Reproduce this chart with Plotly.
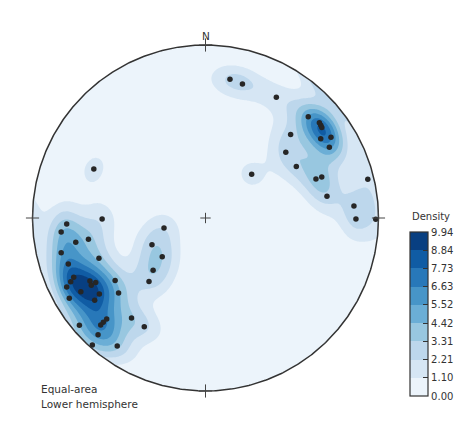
import numpy as np
import plotly.graph_objects as go

# Poles (trend / plunge in degrees), read from the lower-hemisphere equal-area net
trend = [10.0, 15.4, 30.4, 45.4, 50.1, 51.2, 52.1, 45.6, 55.5, 57.2,
         60.3, 50.7, 60.5, 70.6, 70.6, 79.8, 76.6, 85.4, 90.4, 90.4,
         46.6, 293.7, 269.4, 267.5, 264.5, 259.4, 259.7, 256.5, 249.3, 251.5,
         245.8, 244.7, 243.6, 241.4, 239.6, 239.5, 239.4, 234.4, 239.5, 233.4,
         235.3, 229.2, 224.4, 224.4, 224.4, 229.6, 222.6, 221.7, 214.6, 216.5,
         209.4, 256.4, 243.5, 228.1, 225.1, 221.6]
plunge = [19.7, 20.7, 20.2, 17.7, 15.3, 15.6, 15.9, 31.7, 20.3, 14.8,
          18.7, 39.8, 39.5, 32.8, 29.5, 29.4, 4.0, 15.0, 14.1, 1.8,
          59.9, 30.2, 40.0, 20.8, 17.3, 24.7, 31.8, 15.3, 34.5, 17.5,
          17.6, 14.9, 11.4, 24.9, 27.3, 24.4, 17.4, 25.5, 9.5, 21.3,
          36.6, 34.0, 19.5, 16.7, 14.5, 4.8, 9.1, 1.9, 11.1, 28.9,
          28.7, 69.9, 61.7, 62.5, 54.8, 49.3]

density_max = 9.94
level_labels = ["0.00", "1.10", "2.21", "3.31", "4.42", "5.52", "6.63", "7.73", "8.84", "9.94"]
cardinal_labels = ["N"]
note_lines = ["Equal-area", "Lower hemisphere"]

# ---- colours (matplotlib "Blues") ----
blues_anchor = ["#f7fbff", "#deebf7", "#c6dbef", "#9ecae1", "#6baed6",
                "#4292c6", "#2171b5", "#08519c", "#08306b"]


def hex2rgb(h):
    return np.array([int(h[i:i + 2], 16) for i in (1, 3, 5)], float)


def blues(t):
    pos = t * (len(blues_anchor) - 1)
    i = int(min(np.floor(pos), len(blues_anchor) - 2))
    f = pos - i
    c = hex2rgb(blues_anchor[i]) * (1 - f) + hex2rgb(blues_anchor[i + 1]) * f
    return "rgb(%d,%d,%d)" % tuple(np.round(c).astype(int))


n_bands = len(level_labels) - 1
band_colors = [blues((k + 0.5) / n_bands) for k in range(n_bands)]
levels = [density_max * k / n_bands for k in range(n_bands + 1)]
step = density_max / n_bands

# ---- projection ----
tr = np.radians(trend)
pl = np.radians(plunge)
rp = np.sqrt(1 - np.sin(pl))
pole_x = rp * np.sin(tr)
pole_y = rp * np.cos(tr)
vx = np.cos(pl) * np.sin(tr)
vy = np.cos(pl) * np.cos(tr)
vz = np.sin(pl)

# ---- density on the sphere (axial, exponential kernel) ----
kappa = 70.0
g = np.linspace(-1.12, 1.12, 225)
GX, GY = np.meshgrid(g, g)
rr = np.sqrt(GX ** 2 + GY ** 2)
sc = np.where(rr > 1, 1 / np.maximum(rr, 1e-9), 1.0)
X = GX * sc
Y = GY * sc
r2 = X ** 2 + Y ** 2
fh = np.sqrt(np.clip(2 - r2, 0, None))
ex, ny, dz = X * fh, Y * fh, 1 - r2
cosd = np.abs(ex[..., None] * vx + ny[..., None] * vy + dz[..., None] * vz)
dens = np.exp(kappa * (cosd - 1)).sum(-1)
dens = dens / dens.max() * density_max

fig = go.Figure()

contour_scale = [[k / (n_bands - 1), c] for k, c in enumerate(band_colors)]
fig.add_trace(go.Contour(
    x=g, y=g, z=dens,
    contours=dict(start=levels[1], end=levels[-2] + step * 0.001, size=step,
                  coloring="fill", showlines=False),
    line=dict(width=0),
    colorscale=contour_scale, showscale=False, hoverinfo="skip"))

# white mask outside the primitive circle
mx, my = [], []
for q in range(4):
    a = np.radians(np.linspace(q * 90 - 5, q * 90 + 95, 120))
    b = a[::-1]
    mx += list(np.cos(a)) + list(2.2 * np.cos(b)) + [np.cos(a[0]), None]
    my += list(np.sin(a)) + list(2.2 * np.sin(b)) + [np.sin(a[0]), None]
fig.add_trace(go.Scatter(x=mx, y=my, mode="lines", fill="toself",
                         fillcolor="white", line=dict(width=0, color="white"),
                         hoverinfo="skip"))

# poles
fig.add_trace(go.Scatter(x=pole_x, y=pole_y, mode="markers",
                         marker=dict(size=5.5, color="#262626", line=dict(width=0)),
                         hoverinfo="skip"))

# primitive circle
t = np.radians(np.linspace(0, 360, 721))
fig.add_trace(go.Scatter(x=np.cos(t), y=np.sin(t), mode="lines",
                         line=dict(color="#333333", width=1.5), hoverinfo="skip"))

# crosses
cx, cy = [], []
e = 0.038
for (px, py) in [(0, 1), (1, 0), (0, -1), (-1, 0)]:
    cx += [px - e, px + e, None, px, px, None]
    cy += [py, py, None, py - e, py + e, None]
c0 = 0.03
cx += [-c0, c0, None, 0, 0, None]
cy += [0, 0, None, -c0, c0, None]
fig.add_trace(go.Scatter(x=cx, y=cy, mode="lines",
                         line=dict(color="#444444", width=1), hoverinfo="skip"))

# colour bar (discrete bands)
plot_w = 381.0
cb_scale = []
for k, c in enumerate(band_colors):
    cb_scale += [[k / n_bands, c], [(k + 1) / n_bands, c]]
fig.add_trace(go.Heatmap(
    z=[[0, density_max], [0, density_max]], x=[5, 6], y=[5, 6],
    colorscale=cb_scale, zmin=0, zmax=density_max, hoverinfo="skip",
    colorbar=dict(thickness=18, thicknessmode="pixels", len=164 / 380, lenmode="fraction",
                  x=395 / plot_w, xanchor="left", xpad=0,
                  y=12 / 380, yanchor="bottom", ypad=0,
                  outlinewidth=1.2, outlinecolor="#333333",
                  tickmode="array", tickvals=levels, ticktext=level_labels,
                  ticks="inside", ticklen=5, tickwidth=1, tickcolor="#333333",
                  tickfont=dict(family="DejaVu Sans", size=10, color="#333333"))))

font = dict(family="DejaVu Sans", size=10.5, color="#333333")
annotations = [
    dict(x=0, y=1.052, xref="x", yref="y", text=cardinal_labels[0], showarrow=False,
         font=font, xanchor="center", yanchor="middle"),
    dict(x=-0.962, y=-0.988, xref="x", yref="y", text=note_lines[0], showarrow=False,
         font=font, xanchor="left", yanchor="middle"),
    dict(x=-0.962, y=-1.075, xref="x", yref="y", text=note_lines[1], showarrow=False,
         font=font, xanchor="left", yanchor="middle"),
    dict(x=416 / plot_w, y=192 / 380, xref="paper", yref="paper", text="Density",
         showarrow=False, font=dict(family="DejaVu Sans", size=10, color="#333333"),
         xanchor="center", yanchor="middle"),
]

fig.update_layout(
    width=470, height=424,
    margin=dict(l=7, r=82, t=20, b=24),
    paper_bgcolor="white", plot_bgcolor="white",
    showlegend=False,
    xaxis=dict(range=[-1.1012, 1.1012], visible=False, fixedrange=True),
    yaxis=dict(range=[-1.0983, 1.0983], visible=False, fixedrange=True),
    annotations=annotations,
)

fig.write_html("out.html")
